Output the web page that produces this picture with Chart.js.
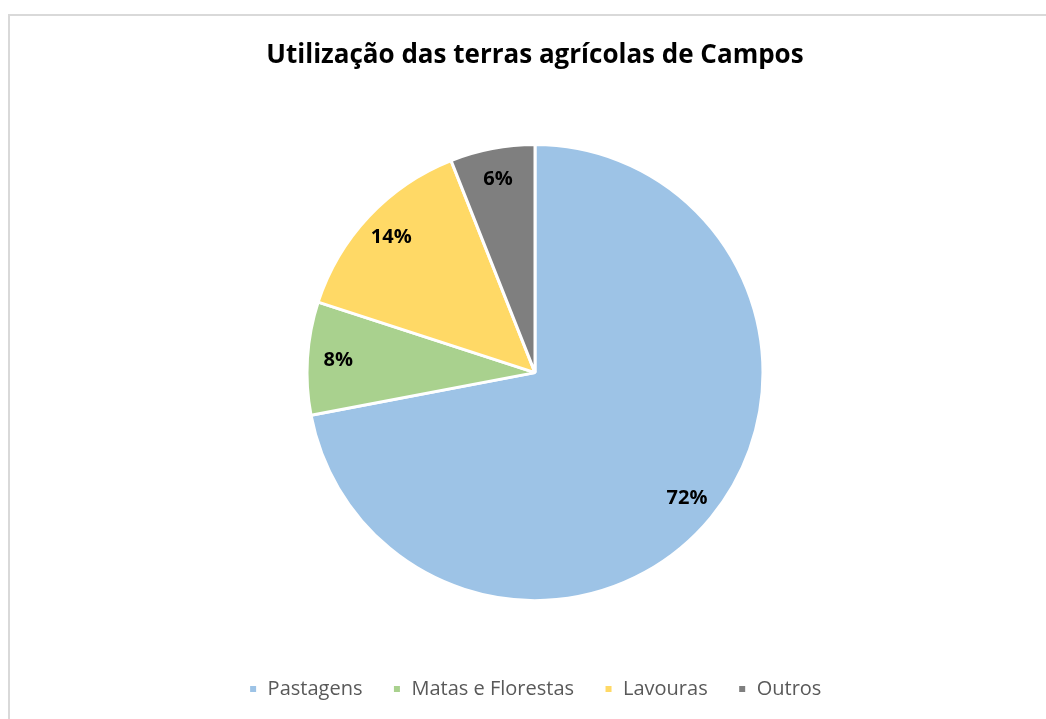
<!DOCTYPE html>
<html>
<head>
<meta charset="utf-8">
<script src="https://cdn.jsdelivr.net/npm/chart.js@4/dist/chart.umd.min.js"></script>
<style>
  html, body { margin: 0; padding: 0; background: #ffffff; overflow: hidden; }
  #wrap { position: relative; width: 1046px; height: 719px; overflow: hidden; }
  #frame { position: absolute; left: 8px; top: 14px; width: 1100px; height: 800px; border: 2px solid #d9d9d9; box-sizing: border-box; }
  #c { position: absolute; left: 0; top: 0; }
</style>
</head>
<body>
<div id="wrap">
  <div id="frame"></div>
  <canvas id="c" width="1046" height="719"></canvas>
</div>
<script>
const titleText = 'Utilização das terras agrícolas de Campos';
const categories = ['Pastagens', 'Matas e Florestas', 'Lavouras', 'Outros'];
const values = [72, 8, 14, 6];
const colors = ['#9dc3e6', '#a9d18e', '#ffd966', '#7f7f7f'];

const labelPlugin = {
  id: 'sliceLabels',
  afterDatasetsDraw(chart) {
    const ctx = chart.ctx;
    const meta = chart.getDatasetMeta(0);
    ctx.save();
    ctx.font = 'bold 20px "Open Sans", sans-serif';
    ctx.fillStyle = '#000000';
    ctx.textAlign = 'center';
    ctx.textBaseline = 'middle';
    meta.data.forEach((arc, i) => {
      const p = arc.getProps(['startAngle', 'endAngle', 'x', 'y', 'outerRadius'], true);
      const mid = (p.startAngle + p.endAngle) / 2;
      const r = p.outerRadius * 0.865;
      ctx.fillText(values[i] + '%', p.x + Math.cos(mid) * r, p.y + Math.sin(mid) * r);
    });
    ctx.restore();
  }
};

new Chart(document.getElementById('c'), {
  type: 'pie',
  data: {
    labels: categories,
    datasets: [{
      data: values,
      backgroundColor: colors,
      borderColor: '#ffffff',
      borderWidth: 3,
      radius: 228
    }]
  },
  options: {
    responsive: false,
    animation: false,
    devicePixelRatio: 1,
    layout: { padding: { left: 24, right: 0, top: 0, bottom: 10 } },
    plugins: {
      tooltip: { enabled: false },
      title: {
        display: true,
        text: titleText,
        color: '#000000',
        font: { family: '"Open Sans", sans-serif', size: 26, weight: 'bold' },
        padding: { top: 40, bottom: 25 }
      },
      legend: {
        display: true,
        position: 'bottom',
        labels: {
          color: '#595959',
          font: { family: '"Open Sans", sans-serif', size: 20 },
          boxWidth: 9,
          boxHeight: 9,
          padding: 30
        }
      }
    }
  },
  plugins: [labelPlugin]
});
</script>
</body>
</html>
